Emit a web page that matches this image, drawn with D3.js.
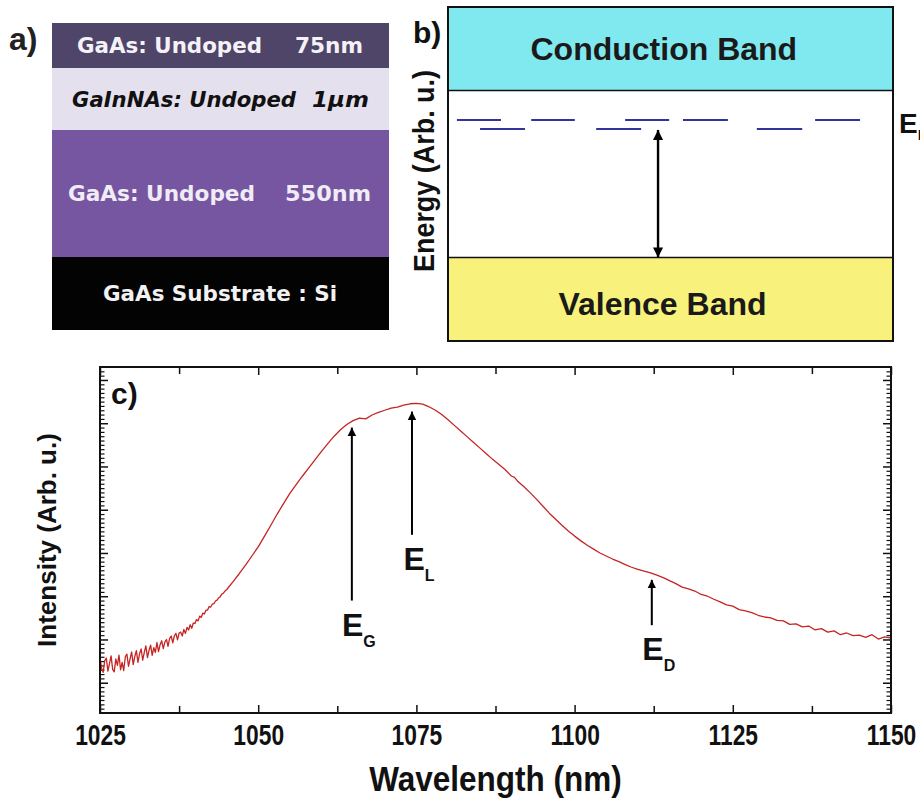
<!DOCTYPE html>
<html>
<head>
<meta charset="utf-8">
<script src="https://cdn.jsdelivr.net/npm/d3@7"></script>
<style>
  body { margin: 0; background: #fff; }
  svg { display: block; }
</style>
</head>
<body>
<svg id="fig" width="920" height="799"></svg>
<script>
// ---------- panel a: layer stack ----------
const layerNames = ["GaAs: Undoped", "GaInNAs: Undoped", "GaAs: Undoped", "GaAs Substrate : Si"];
const layerThickness = ["75nm", "1μm", "550nm", ""];

// ---------- panel b: band diagram (energy in arbitrary units, 0-100) ----------
const bandNames = ["Conduction Band", "Valence Band"];
const conductionEdge = 75;
const valenceEdge = 25;
const localizedUpperEnergy = 66.2;
const localizedLowerEnergy = 63.5;
const localizedUpper = [[2.0, 11.9], [18.7, 28.5], [39.8, 49.7], [52.8, 62.9], [82.5, 92.6]];
const localizedLower = [[7.2, 17.3], [33.3, 43.4], [69.4, 79.6]];
const transitionPos = 47.2;

// ---------- panel c: PL spectrum ----------
const wavelength = [
  1025, 1025.25, 1025.5, 1025.75, 1026, 1026.25, 1026.5, 1026.75,
  1027, 1027.25, 1027.5, 1027.75, 1028, 1028.25, 1028.5, 1028.75,
  1029, 1029.25, 1029.5, 1029.75, 1030, 1030.25, 1030.5, 1030.75,
  1031, 1031.25, 1031.5, 1031.75, 1032, 1032.25, 1032.5, 1032.75,
  1033, 1033.25, 1033.5, 1033.75, 1034, 1034.25, 1034.5, 1034.75,
  1035, 1035.25, 1035.5, 1035.75, 1036, 1036.25, 1036.5, 1036.75,
  1037, 1037.25, 1037.5, 1037.75, 1038, 1038.25, 1038.5, 1038.75,
  1039, 1039.25, 1039.5, 1039.75, 1040, 1040.25, 1040.5, 1040.75,
  1041, 1041.25, 1041.5, 1041.75, 1042, 1042.25, 1042.5, 1042.75,
  1043, 1043.25, 1043.5, 1043.75, 1044, 1044.25, 1044.5, 1044.75,
  1045, 1046, 1047, 1048, 1049, 1050, 1051, 1052, 1053, 1054,
  1055, 1056, 1057, 1058, 1059, 1060, 1061, 1062, 1063, 1064,
  1065, 1066, 1067, 1068, 1069, 1070, 1071, 1072, 1073, 1074,
  1075, 1076, 1077, 1078, 1079, 1080, 1081, 1082, 1083, 1084,
  1085, 1086, 1087, 1088, 1089, 1090, 1090.5, 1091, 1092, 1093,
  1094, 1095, 1096, 1097, 1098, 1099, 1100, 1101, 1102, 1103,
  1104, 1105, 1106, 1107, 1108, 1109, 1110, 1111, 1112, 1113,
  1114, 1115, 1116, 1117, 1118, 1119, 1120, 1121, 1122, 1123,
  1124, 1125, 1126, 1127, 1128, 1129, 1130, 1131, 1132, 1133,
  1134, 1135, 1136, 1137, 1138, 1139, 1140, 1141, 1142, 1143,
  1144, 1145, 1146, 1147, 1148, 1149, 1150
];
const intensity = [
  0.60, 0.33, 0.24, 0.51, 0.57, 0.27, 0.44, 0.62,
  0.31, 0.25, 0.55, 0.40, 0.64, 0.30, 0.47, 0.28,
  0.60, 0.66, 0.38, 0.55, 0.71, 0.42, 0.61, 0.74,
  0.47, 0.67, 0.78, 0.52, 0.70, 0.85, 0.58, 0.75,
  0.87, 0.63, 0.81, 0.70, 0.93, 0.72, 0.88, 0.97,
  0.79, 0.94, 1.00, 0.84, 1.02, 1.08, 0.92, 1.08,
  1.14, 0.99, 1.15, 1.17, 1.08, 1.23, 1.14, 1.28,
  1.22, 1.34, 1.26, 1.38, 1.37, 1.46, 1.43, 1.54,
  1.51, 1.61, 1.59, 1.68, 1.68, 1.76, 1.75, 1.82,
  1.83, 1.89, 1.91, 1.96, 1.99, 2.05, 2.07, 2.12,
  2.15, 2.33, 2.52, 2.72, 2.93, 3.14, 3.39, 3.64, 3.90, 4.14,
  4.38, 4.58, 4.78, 4.97, 5.16, 5.35, 5.53, 5.70, 5.85, 5.97,
  6.06, 6.12, 6.10, 6.19, 6.25, 6.30, 6.35, 6.37, 6.42, 6.45,
  6.46, 6.44, 6.38, 6.30, 6.20, 6.08, 5.95, 5.82, 5.69, 5.56,
  5.43, 5.30, 5.17, 5.05, 4.93, 4.78, 4.75, 4.66, 4.53, 4.39,
  4.24, 4.08, 3.92, 3.78, 3.64, 3.51, 3.39, 3.28, 3.18, 3.09,
  3.00, 2.93, 2.86, 2.80, 2.73, 2.67, 2.62, 2.58, 2.54, 2.49,
  2.43, 2.36, 2.29, 2.21, 2.17, 2.12, 2.04, 2.00, 1.93, 1.87,
  1.80, 1.77, 1.69, 1.66, 1.62, 1.56, 1.52, 1.50, 1.44, 1.43,
  1.35, 1.36, 1.29, 1.31, 1.22, 1.25, 1.17, 1.20, 1.11, 1.15,
  1.09, 1.10, 1.05, 1.11, 1.01, 1.06, 1.03
];
const xTickValues = [1025, 1050, 1075, 1100, 1125, 1150];
const xMinorTicks = [1037.5, 1062.5, 1087.5, 1112.5, 1137.5];
const yMajorTicks = [0, 1, 2, 3, 4, 5, 6, 7];

// arrows marking the transitions
const markerSub = ["G", "L", "D"];
const markerWavelength = [1064.8, 1074.3, 1112.2];
const markerTip = [5.90, 6.27, 2.38];
const markerTail = [1.90, 3.42, 1.33];

// ======================================================================
const svg = d3.select("#fig");
svg.append("rect").attr("width", 920).attr("height", 799).attr("fill", "#fff");

const SANS = "'Liberation Sans', Arial, sans-serif";
const WIDE = "'DejaVu Sans', Verdana, sans-serif";

// arrowhead marker
const defs = svg.append("defs");
defs.append("marker")
  .attr("id", "head")
  .attr("viewBox", "0 0 10 10")
  .attr("refX", 10).attr("refY", 5)
  .attr("markerWidth", 4.2).attr("markerHeight", 4.6)
  .attr("markerUnits", "strokeWidth")
  .attr("orient", "auto-start-reverse")
  .append("path").attr("d", "M0,0 L10,5 L0,10 z").attr("fill", "#000");

// ---------------- panel a ----------------
const aX0 = 52, aX1 = 389;
const layerEdges = [23, 68, 130, 257, 330];
const layerFill = ["#4f4568", "#e5e0ee", "#7656a0", "#030303"];
const layerText = ["#f4f2f7", "#111", "#f0ecf6", "#f2f2f2"];
const layerStyle = ["normal", "italic", "normal", "normal"];
const nameSpan = [[77, 262], [72, 296], [68, 255], [103, 337]];
const thickSpan = [[295, 363], [312, 369], [285, 371], null];

const gA = svg.append("g");
layerNames.forEach((name, i) => {
  const y0 = layerEdges[i], y1 = layerEdges[i + 1];
  gA.append("rect")
    .attr("x", aX0).attr("y", y0).attr("width", aX1 - aX0).attr("height", y1 - y0)
    .attr("fill", layerFill[i]);
  const cy = (y0 + y1) / 2 + 7.5;
  gA.append("text")
    .attr("x", nameSpan[i][0]).attr("y", cy)
    .attr("textLength", nameSpan[i][1] - nameSpan[i][0])
    .attr("lengthAdjust", "spacingAndGlyphs")
    .attr("font-family", WIDE).attr("font-weight", "bold")
    .attr("font-style", layerStyle[i]).attr("font-size", 21)
    .attr("fill", layerText[i]).text(name);
  if (layerThickness[i]) {
    gA.append("text")
      .attr("x", thickSpan[i][0]).attr("y", cy)
      .attr("textLength", thickSpan[i][1] - thickSpan[i][0])
      .attr("lengthAdjust", "spacingAndGlyphs")
      .attr("font-family", WIDE).attr("font-weight", "bold")
      .attr("font-style", layerStyle[i]).attr("font-size", 21)
      .attr("fill", layerText[i]).text(layerThickness[i]);
  }
});
svg.append("text").attr("x", 9).attr("y", 50)
  .attr("font-family", SANS).attr("font-weight", "bold").attr("font-size", 32)
  .attr("fill", "#222").text("a)");

// ---------------- panel b ----------------
const xB = d3.scaleLinear().domain([0, 100]).range([448, 893]);
const yB = d3.scaleLinear().domain([0, 100]).range([341, 7]);
const gB = svg.append("g");

gB.append("rect")
  .attr("x", xB(0)).attr("y", yB(100)).attr("width", xB(100) - xB(0))
  .attr("height", yB(conductionEdge) - yB(100)).attr("fill", "#80e9ef");
gB.append("rect")
  .attr("x", xB(0)).attr("y", yB(valenceEdge)).attr("width", xB(100) - xB(0))
  .attr("height", yB(0) - yB(valenceEdge)).attr("fill", "#f8f27c");
gB.append("rect")
  .attr("x", xB(0)).attr("y", yB(100)).attr("width", xB(100) - xB(0))
  .attr("height", yB(0) - yB(100))
  .attr("fill", "none").attr("stroke", "#111").attr("stroke-width", 2);
[conductionEdge, valenceEdge].forEach(e => {
  gB.append("line")
    .attr("x1", xB(0)).attr("x2", xB(100)).attr("y1", yB(e)).attr("y2", yB(e))
    .attr("stroke", "#111").attr("stroke-width", 1.6);
});

gB.append("text")
  .attr("x", xB(48.5)).attr("y", (yB(100) + yB(conductionEdge)) / 2 + 11.5)
  .attr("text-anchor", "middle").attr("font-family", SANS).attr("font-weight", "bold")
  .attr("font-size", 32).attr("fill", "#1a1a1a").text(bandNames[0]);
gB.append("text")
  .attr("x", xB(48.2)).attr("y", 315)
  .attr("text-anchor", "middle").attr("font-family", SANS).attr("font-weight", "bold")
  .attr("font-size", 32).attr("fill", "#1a1a1a").text(bandNames[1]);

const drawLevels = (segs, e) => {
  gB.selectAll(null).data(segs).enter().append("line")
    .attr("x1", d => xB(d[0])).attr("x2", d => xB(d[1]))
    .attr("y1", yB(e)).attr("y2", yB(e))
    .attr("stroke", "#33339c").attr("stroke-width", 2);
};
drawLevels(localizedUpper, localizedUpperEnergy);
drawLevels(localizedLower, localizedLowerEnergy);

gB.append("line")
  .attr("x1", xB(transitionPos)).attr("x2", xB(transitionPos))
  .attr("y1", yB(valenceEdge)).attr("y2", yB(localizedLowerEnergy) + 1)
  .attr("stroke", "#000").attr("stroke-width", 2.4)
  .attr("marker-start", "url(#head)").attr("marker-end", "url(#head)");

// level label, partly running past the right edge of the figure
const elB = gB.append("text").attr("x", 899).attr("y", 133)
  .attr("font-family", SANS).attr("font-weight", "bold").attr("font-size", 28).attr("fill", "#111");
elB.append("tspan").text("E");
elB.append("tspan").attr("dy", 7).attr("font-size", 15).text("L");

svg.append("text").attr("x", 413).attr("y", 43)
  .attr("font-family", SANS).attr("font-weight", "bold").attr("font-size", 30)
  .attr("fill", "#111").text("b)");
svg.append("text")
  .attr("transform", `translate(434,${(yB(100) + yB(0)) / 2 - 3}) rotate(-90)`)
  .attr("text-anchor", "middle").attr("font-family", SANS).attr("font-weight", "bold")
  .attr("font-size", 29).attr("textLength", 202).attr("lengthAdjust", "spacingAndGlyphs")
  .attr("fill", "#111").text("Energy (Arb. u.)");

// ---------------- panel c ----------------
const x = d3.scaleLinear().domain([1025, 1150]).range([100, 891]);
const y = d3.scaleLinear().domain([-0.7, 7.3]).range([713, 367]);
const gC = svg.append("g");

const yMinorTicks = d3.range(-0.6, 7.3, 0.1).filter(v => Math.abs(v - Math.round(v)) > 0.01);

// bottom axis with labels (condensed bold digits)
const axB = gC.append("g").attr("transform", `translate(0,${y(-0.7)})`)
  .call(d3.axisBottom(x).tickValues(xTickValues).tickFormat(d3.format("d"))
    .tickSizeInner(-8).tickSizeOuter(0).tickPadding(11));
axB.call(g => g.select(".domain").remove());
axB.selectAll("text").attr("font-family", SANS)
  .attr("font-weight", "bold").attr("font-size", 30).attr("fill", "#111")
  .attr("transform", "scale(0.76,1)");
axB.selectAll("line").attr("stroke", "#111").attr("stroke-width", 1.5);
gC.append("g").attr("transform", `translate(0,${y(-0.7)})`)
  .call(d3.axisBottom(x).tickValues(xMinorTicks).tickFormat("").tickSizeInner(-7).tickSizeOuter(0))
  .call(g => g.select(".domain").remove())
  .selectAll("line").attr("stroke", "#111").attr("stroke-width", 1.5);

// top axis, ticks only
[[xTickValues, 8], [xMinorTicks, 7]].forEach(([vals, len]) => {
  gC.append("g").attr("transform", `translate(0,${y(7.3)})`)
    .call(d3.axisTop(x).tickValues(vals).tickFormat("").tickSizeInner(-len).tickSizeOuter(0))
    .call(g => g.select(".domain").remove())
    .selectAll("line").attr("stroke", "#111").attr("stroke-width", 1.5);
});

// left and right axes, ticks only
[[d3.axisLeft, x(1025)], [d3.axisRight, x(1150)]].forEach(([axisFn, px]) => {
  gC.append("g").attr("transform", `translate(${px},0)`)
    .call(axisFn(y).tickValues(yMajorTicks).tickFormat("").tickSizeInner(-8).tickSizeOuter(0))
    .call(g => g.select(".domain").remove())
    .selectAll("line").attr("stroke", "#111").attr("stroke-width", 1.5);
  gC.append("g").attr("transform", `translate(${px},0)`)
    .call(axisFn(y).tickValues(yMinorTicks).tickFormat("").tickSizeInner(-4.5).tickSizeOuter(0))
    .call(g => g.select(".domain").remove())
    .selectAll("line").attr("stroke", "#111").attr("stroke-width", 1.2);
});

// spectrum
const line = d3.line().x((d, i) => x(wavelength[i])).y(d => y(d));
gC.append("path").datum(intensity)
  .attr("d", line).attr("fill", "none")
  .attr("stroke", "#c62424").attr("stroke-width", 1.3).attr("stroke-linejoin", "round");

// frame
gC.append("rect")
  .attr("x", x(1025)).attr("y", y(7.3)).attr("width", x(1150) - x(1025)).attr("height", y(-0.7) - y(7.3))
  .attr("fill", "none").attr("stroke", "#111").attr("stroke-width", 2);

// transition markers
markerSub.forEach((s, i) => {
  const px = x(markerWavelength[i]);
  gC.append("line")
    .attr("x1", px).attr("x2", px)
    .attr("y1", y(markerTail[i])).attr("y2", y(markerTip[i]))
    .attr("stroke", "#000").attr("stroke-width", 2)
    .attr("marker-end", "url(#head)");
  const t = gC.append("text")
    .attr("x", px + 7).attr("y", y(markerTail[i]) + 35)
    .attr("text-anchor", "middle").attr("font-family", SANS).attr("font-weight", "bold")
    .attr("font-size", 32).attr("fill", "#111");
  t.append("tspan").text("E");
  t.append("tspan").attr("dy", 11).attr("font-size", 16).text(s);
});

gC.append("text").attr("x", 111).attr("y", 404)
  .attr("font-family", SANS).attr("font-weight", "bold").attr("font-size", 30)
  .attr("fill", "#111").text("c)");

// axis titles
svg.append("text")
  .attr("transform", `translate(56,${(y(7.3) + y(-0.7)) / 2}) rotate(-90)`)
  .attr("text-anchor", "middle").attr("font-family", SANS).attr("font-weight", "bold")
  .attr("font-size", 26).attr("fill", "#111").text("Intensity (Arb. u.)");
svg.append("text")
  .attr("transform", `translate(${(x(1025) + x(1150)) / 2},791) scale(0.9,1)`)
  .attr("text-anchor", "middle").attr("font-family", SANS)
  .attr("font-weight", "bold").attr("font-size", 35).attr("fill", "#111").text("Wavelength (nm)");
</script>
</body>
</html>
